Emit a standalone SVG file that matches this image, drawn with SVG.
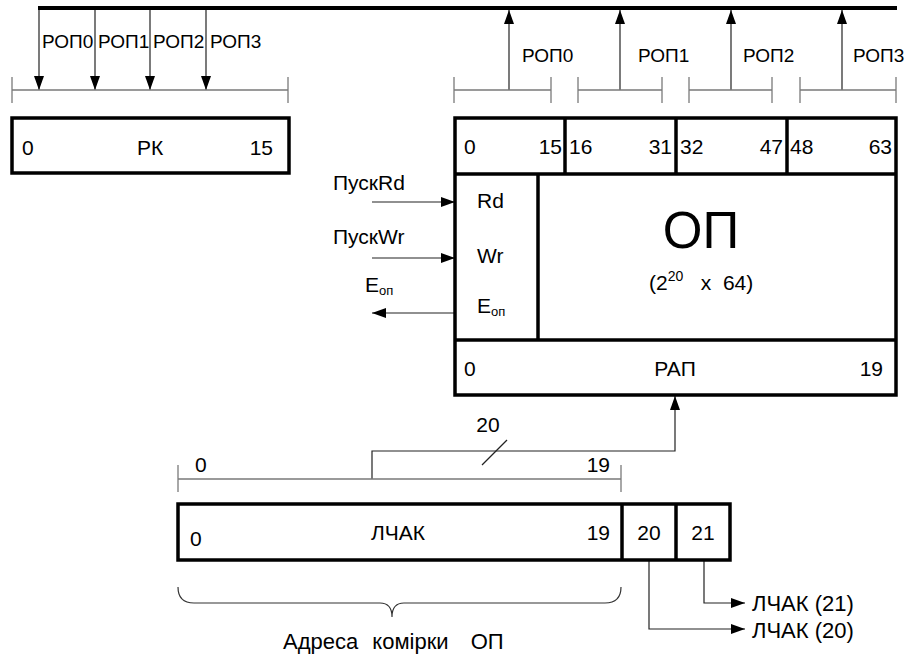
<svg xmlns="http://www.w3.org/2000/svg" width="908" height="659" viewBox="0 0 908 659">
<defs>
<style>
text{font-family:"Liberation Sans",Arial,sans-serif;font-size:21px;fill:#000}
.lbl{font-size:19px}
.big{font-size:51px}
.out{font-size:22px}
.box{fill:#fff;stroke:#000;stroke-width:3.5}
.div{stroke:#000;stroke-width:3.5}
.br{stroke:#7a7a7a;stroke-width:1.3;fill:none}
.ln{stroke:#222;stroke-width:1.2;fill:none}
.bus{stroke:#000;stroke-width:4}
</style>
<marker id="ah" markerUnits="userSpaceOnUse" markerWidth="14" markerHeight="10" refX="14" refY="5" orient="auto">
<path d="M0,0 L14,5 L0,10 z" fill="#000"/>
</marker>
</defs>
<rect width="908" height="659" fill="#fff"/>

<g id="bus">
<line class="bus" x1="38" y1="8" x2="897" y2="8"/>
</g>

<g id="connectors">
<line class="ln" x1="39" y1="10" x2="39" y2="90" marker-end="url(#ah)"/>
<line class="ln" x1="95" y1="10" x2="95" y2="90" marker-end="url(#ah)"/>
<line class="ln" x1="150" y1="10" x2="150" y2="90" marker-end="url(#ah)"/>
<line class="ln" x1="206" y1="10" x2="206" y2="90" marker-end="url(#ah)"/>
<line class="ln" x1="509" y1="90" x2="509" y2="10" marker-end="url(#ah)"/>
<line class="ln" x1="620" y1="90" x2="620" y2="10" marker-end="url(#ah)"/>
<line class="ln" x1="731" y1="90" x2="731" y2="10" marker-end="url(#ah)"/>
<line class="ln" x1="842" y1="90" x2="842" y2="10" marker-end="url(#ah)"/>
<line class="ln" x1="372" y1="202" x2="455" y2="202" marker-end="url(#ah)"/>
<line class="ln" x1="372" y1="258" x2="455" y2="258" marker-end="url(#ah)"/>
<line class="ln" x1="455" y1="313" x2="372" y2="313" marker-end="url(#ah)"/>
<polyline class="ln" points="372,479 372,451 675,451 675,396" marker-end="url(#ah)"/>
<line class="ln" x1="482" y1="465" x2="507" y2="440"/>
<polyline class="ln" points="704,560 704,603 745,603" marker-end="url(#ah)"/>
<polyline class="ln" points="649,560 649,629 745,629" marker-end="url(#ah)"/>
</g>

<g id="brackets">
<path class="br" d="M12,90 H288 M12,77 V103 M288,77 V103"/>
<path class="br" d="M454,90 H551 M454,77 V103 M551,77 V103"/>
<path class="br" d="M578,90 H662 M578,77 V103 M662,77 V103"/>
<path class="br" d="M689,90 H772 M689,77 V103 M772,77 V103"/>
<path class="br" d="M800,90 H896 M800,77 V103 M896,77 V103"/>
<path class="br" d="M178,479 H621 M178,465 V492 M621,465 V492"/>
<path class="ln" d="M178,587 Q178,603 194,603 H380 Q392,603 392,617 Q392,603 404,603 H605 Q621,603 621,587" style="stroke:#333"/>
</g>

<g id="labels-rop">
<text class="lbl" x="42" y="48">РОП0</text>
<text class="lbl" x="98" y="48">РОП1</text>
<text class="lbl" x="153" y="48">РОП2</text>
<text class="lbl" x="210" y="48">РОП3</text>
<text class="lbl" x="522" y="62">РОП0</text>
<text class="lbl" x="638" y="62">РОП1</text>
<text class="lbl" x="743" y="62">РОП2</text>
<text class="lbl" x="853" y="62">РОП3</text>
</g>

<g id="rk">
<rect class="box" x="12" y="118" width="277" height="55"/>
<text x="22" y="155">0</text>
<text x="150" y="155" text-anchor="middle">РК</text>
<text x="273" y="155" text-anchor="end">15</text>
</g>

<g id="op">
<rect class="box" x="455" y="118" width="441" height="277"/>
<line class="div" x1="455" y1="174" x2="896" y2="174"/>
<line class="div" x1="565" y1="118" x2="565" y2="174"/>
<line class="div" x1="676" y1="118" x2="676" y2="174"/>
<line class="div" x1="787" y1="118" x2="787" y2="174"/>
<line class="div" x1="538" y1="174" x2="538" y2="340"/>
<line class="div" x1="455" y1="340" x2="896" y2="340"/>
<text x="464" y="154">0</text>
<text x="562" y="154" text-anchor="end">15</text>
<text x="569" y="154">16</text>
<text x="672" y="154" text-anchor="end">31</text>
<text x="680" y="154">32</text>
<text x="783" y="154" text-anchor="end">47</text>
<text x="790" y="154">48</text>
<text x="892" y="154" text-anchor="end">63</text>
<text x="477" y="208">Rd</text>
<text x="477" y="263">Wr</text>
<text x="477" y="313">E<tspan font-size="13" dy="3">оп</tspan></text>
<text class="big" x="701" y="248" text-anchor="middle">ОП</text>
<text x="649" y="290">(2<tspan font-size="14" dy="-9">20</tspan><tspan dy="9" xml:space="preserve">   x  64)</tspan></text>
<text x="464" y="376">0</text>
<text x="675" y="376" text-anchor="middle">РАП</text>
<text x="883" y="376" text-anchor="end">19</text>
</g>

<g id="op-signals">
<text x="333" y="190">ПускRd</text>
<text x="333" y="244">ПускWr</text>
<text x="365" y="292">E<tspan font-size="13" dy="3">оп</tspan></text>
</g>

<g id="bus20">
<text x="195" y="472">0</text>
<text x="610" y="472" text-anchor="end">19</text>
<text x="488" y="432" text-anchor="middle">20</text>
</g>

<g id="lchak">
<rect class="box" x="178" y="504" width="552" height="56"/>
<line class="div" x1="622" y1="504" x2="622" y2="560"/>
<line class="div" x1="676" y1="504" x2="676" y2="560"/>
<text x="190" y="546">0</text>
<text x="398" y="540" text-anchor="middle">ЛЧАК</text>
<text x="610" y="540" text-anchor="end">19</text>
<text x="649" y="540" text-anchor="middle">20</text>
<text x="703" y="540" text-anchor="middle">21</text>
</g>

<g id="outputs">
<text class="out" x="752" y="611">ЛЧАК (21)</text>
<text class="out" x="752" y="638">ЛЧАК (20)</text>
<text class="out" x="283" y="649" word-spacing="8">Адреса комірки <tspan dx="8">ОП</tspan></text>
</g>
</svg>
